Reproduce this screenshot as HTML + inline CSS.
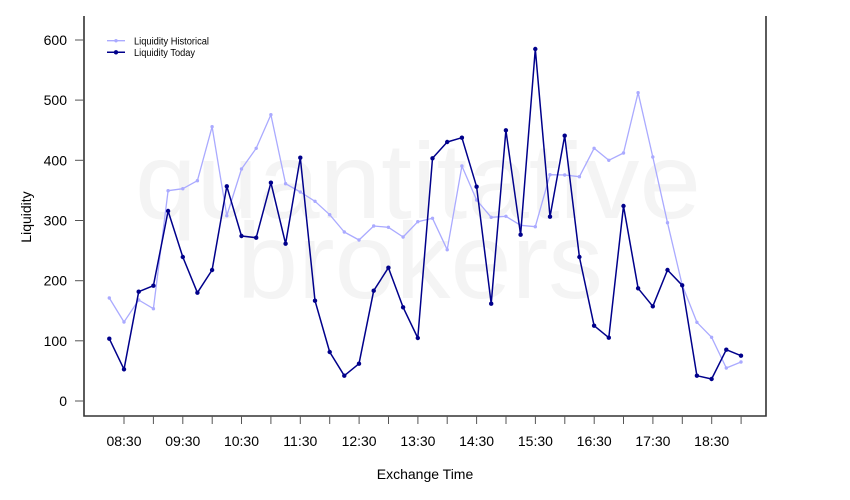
<!DOCTYPE html>
<html>
<head>
<meta charset="utf-8">
<style>
html,body{margin:0;padding:0;background:#fff;}
svg{display:block;}
text{font-family:"Liberation Sans",Arial,sans-serif;}
</style>
</head>
<body>
<svg width="850" height="500" viewBox="0 0 850 500" xmlns="http://www.w3.org/2000/svg">
<rect width="850" height="500" fill="#fff"/>
<!-- watermark -->
<text x="135" y="218" font-size="108" fill="#f4f4f4" textLength="566" lengthAdjust="spacingAndGlyphs">quantitative</text>
<text x="237" y="298" font-size="108" fill="#f4f4f4" textLength="366" lengthAdjust="spacingAndGlyphs">brokers</text>

<!-- axes -->
<g stroke="#333" stroke-width="1.6" fill="none">
<polyline points="84,16 84,416 766,416 766,16"/>
</g>
<!-- y ticks -->
<g stroke="#555" stroke-width="1">
<line x1="75" y1="401" x2="84" y2="401"/>
<line x1="75" y1="340.8" x2="84" y2="340.8"/>
<line x1="75" y1="280.7" x2="84" y2="280.7"/>
<line x1="75" y1="220.5" x2="84" y2="220.5"/>
<line x1="75" y1="160.3" x2="84" y2="160.3"/>
<line x1="75" y1="100.1" x2="84" y2="100.1"/>
<line x1="75" y1="40" x2="84" y2="40"/>
</g>
<g font-size="14" fill="#000" text-anchor="end">
<text x="67" y="406">0</text>
<text x="67" y="345.8">100</text>
<text x="67" y="285.7">200</text>
<text x="67" y="225.5">300</text>
<text x="67" y="165.3">400</text>
<text x="67" y="105.1">500</text>
<text x="67" y="45">600</text>
</g>
<!-- x ticks -->
<g stroke="#555" stroke-width="1">
<line x1="124" y1="416" x2="124" y2="424"/>
<line x1="153.4" y1="416" x2="153.4" y2="424"/>
<line x1="182.8" y1="416" x2="182.8" y2="424"/>
<line x1="212.2" y1="416" x2="212.2" y2="424"/>
<line x1="241.5" y1="416" x2="241.5" y2="424"/>
<line x1="270.9" y1="416" x2="270.9" y2="424"/>
<line x1="300.3" y1="416" x2="300.3" y2="424"/>
<line x1="329.7" y1="416" x2="329.7" y2="424"/>
<line x1="359.1" y1="416" x2="359.1" y2="424"/>
<line x1="388.5" y1="416" x2="388.5" y2="424"/>
<line x1="417.9" y1="416" x2="417.9" y2="424"/>
<line x1="447.2" y1="416" x2="447.2" y2="424"/>
<line x1="476.6" y1="416" x2="476.6" y2="424"/>
<line x1="506" y1="416" x2="506" y2="424"/>
<line x1="535.4" y1="416" x2="535.4" y2="424"/>
<line x1="564.8" y1="416" x2="564.8" y2="424"/>
<line x1="594.2" y1="416" x2="594.2" y2="424"/>
<line x1="623.5" y1="416" x2="623.5" y2="424"/>
<line x1="652.9" y1="416" x2="652.9" y2="424"/>
<line x1="682.3" y1="416" x2="682.3" y2="424"/>
<line x1="711.7" y1="416" x2="711.7" y2="424"/>
<line x1="741.1" y1="416" x2="741.1" y2="424"/>
</g>
<g font-size="14" fill="#000" text-anchor="middle">
<text x="124" y="446">08:30</text>
<text x="182.8" y="446">09:30</text>
<text x="241.5" y="446">10:30</text>
<text x="300.3" y="446">11:30</text>
<text x="359.1" y="446">12:30</text>
<text x="417.9" y="446">13:30</text>
<text x="476.6" y="446">14:30</text>
<text x="535.4" y="446">15:30</text>
<text x="594.2" y="446">16:30</text>
<text x="652.9" y="446">17:30</text>
<text x="711.7" y="446">18:30</text>
</g>
<text x="425" y="479" font-size="14" text-anchor="middle">Exchange Time</text>
<text transform="translate(31,217) rotate(-90)" font-size="14" text-anchor="middle">Liquidity</text>

<!-- Historical -->
<polyline fill="none" stroke="#aaaaff" stroke-width="1.3" stroke-linejoin="round" points="109.3,298 124,322 138.7,300 153.4,308.7 168.1,190.7 182.8,188.7 197.4,180.7 212.1,126.7 226.8,215.7 241.5,169 256.2,148.3 270.9,114.7 285.6,183.7 300.3,192 315,201.3 329.7,214.7 344.3,232 359,240 373.7,226 388.4,227.3 403.1,237 417.8,221.7 432.5,218.3 447.2,249.7 461.9,166 476.6,200 491.2,217.3 505.9,216.3 520.6,225.3 535.3,226.7 550,174.7 564.7,175 579.4,176.7 594.1,148.3 608.8,160.3 623.5,153 638.1,92.7 652.8,157 667.5,222.7 682.2,285 696.9,322.3 711.6,337.3 726.3,368 741,362"/>
<g fill="#aaaaff">
<circle cx="109.3" cy="298" r="1.7"/><circle cx="124" cy="322" r="1.7"/><circle cx="138.7" cy="300" r="1.7"/><circle cx="153.4" cy="308.7" r="1.7"/><circle cx="168.1" cy="190.7" r="1.7"/><circle cx="182.8" cy="188.7" r="1.7"/><circle cx="197.4" cy="180.7" r="1.7"/><circle cx="212.1" cy="126.7" r="1.7"/><circle cx="226.8" cy="215.7" r="1.7"/><circle cx="241.5" cy="169" r="1.7"/><circle cx="256.2" cy="148.3" r="1.7"/><circle cx="270.9" cy="114.7" r="1.7"/><circle cx="285.6" cy="183.7" r="1.7"/><circle cx="300.3" cy="192" r="1.7"/><circle cx="315" cy="201.3" r="1.7"/><circle cx="329.7" cy="214.7" r="1.7"/><circle cx="344.3" cy="232" r="1.7"/><circle cx="359" cy="240" r="1.7"/><circle cx="373.7" cy="226" r="1.7"/><circle cx="388.4" cy="227.3" r="1.7"/><circle cx="403.1" cy="237" r="1.7"/><circle cx="417.8" cy="221.7" r="1.7"/><circle cx="432.5" cy="218.3" r="1.7"/><circle cx="447.2" cy="249.7" r="1.7"/><circle cx="461.9" cy="166" r="1.7"/><circle cx="476.6" cy="200" r="1.7"/><circle cx="491.2" cy="217.3" r="1.7"/><circle cx="505.9" cy="216.3" r="1.7"/><circle cx="520.6" cy="225.3" r="1.7"/><circle cx="535.3" cy="226.7" r="1.7"/><circle cx="550" cy="174.7" r="1.7"/><circle cx="564.7" cy="175" r="1.7"/><circle cx="579.4" cy="176.7" r="1.7"/><circle cx="594.1" cy="148.3" r="1.7"/><circle cx="608.8" cy="160.3" r="1.7"/><circle cx="623.5" cy="153" r="1.7"/><circle cx="638.1" cy="92.7" r="1.7"/><circle cx="652.8" cy="157" r="1.7"/><circle cx="667.5" cy="222.7" r="1.7"/><circle cx="682.2" cy="285" r="1.7"/><circle cx="696.9" cy="322.3" r="1.7"/><circle cx="711.6" cy="337.3" r="1.7"/><circle cx="726.3" cy="368" r="1.7"/><circle cx="741" cy="362" r="1.7"/>
</g>

<!-- Today -->
<polyline fill="none" stroke="#00008b" stroke-width="1.5" stroke-linejoin="round" points="109.3,338.7 124,369.3 138.7,291.7 153.4,285.7 168.1,211 182.8,257 197.4,292.7 212.1,270 226.8,186.3 241.5,236 256.2,237.7 270.9,182.7 285.6,243.7 300.3,157.7 315,300.7 329.7,352 344.3,375.7 359,363.7 373.7,290.7 388.4,267.7 403.1,307.3 417.8,338 432.5,158.3 447.2,142 461.9,137.7 476.6,186.7 491.2,303.7 505.9,130.3 520.6,234.7 535.3,49 550,216.7 564.7,135.7 579.4,257 594.1,325.7 608.8,337.7 623.5,206 638.1,288.3 652.8,306.3 667.5,270 682.2,285.3 696.9,375.7 711.6,379 726.3,349.7 741,355.7"/>
<g fill="#00008b">
<circle cx="109.3" cy="338.7" r="2.2"/><circle cx="124" cy="369.3" r="2.2"/><circle cx="138.7" cy="291.7" r="2.2"/><circle cx="153.4" cy="285.7" r="2.2"/><circle cx="168.1" cy="211" r="2.2"/><circle cx="182.8" cy="257" r="2.2"/><circle cx="197.4" cy="292.7" r="2.2"/><circle cx="212.1" cy="270" r="2.2"/><circle cx="226.8" cy="186.3" r="2.2"/><circle cx="241.5" cy="236" r="2.2"/><circle cx="256.2" cy="237.7" r="2.2"/><circle cx="270.9" cy="182.7" r="2.2"/><circle cx="285.6" cy="243.7" r="2.2"/><circle cx="300.3" cy="157.7" r="2.2"/><circle cx="315" cy="300.7" r="2.2"/><circle cx="329.7" cy="352" r="2.2"/><circle cx="344.3" cy="375.7" r="2.2"/><circle cx="359" cy="363.7" r="2.2"/><circle cx="373.7" cy="290.7" r="2.2"/><circle cx="388.4" cy="267.7" r="2.2"/><circle cx="403.1" cy="307.3" r="2.2"/><circle cx="417.8" cy="338" r="2.2"/><circle cx="432.5" cy="158.3" r="2.2"/><circle cx="447.2" cy="142" r="2.2"/><circle cx="461.9" cy="137.7" r="2.2"/><circle cx="476.6" cy="186.7" r="2.2"/><circle cx="491.2" cy="303.7" r="2.2"/><circle cx="505.9" cy="130.3" r="2.2"/><circle cx="520.6" cy="234.7" r="2.2"/><circle cx="535.3" cy="49" r="2.2"/><circle cx="550" cy="216.7" r="2.2"/><circle cx="564.7" cy="135.7" r="2.2"/><circle cx="579.4" cy="257" r="2.2"/><circle cx="594.1" cy="325.7" r="2.2"/><circle cx="608.8" cy="337.7" r="2.2"/><circle cx="623.5" cy="206" r="2.2"/><circle cx="638.1" cy="288.3" r="2.2"/><circle cx="652.8" cy="306.3" r="2.2"/><circle cx="667.5" cy="270" r="2.2"/><circle cx="682.2" cy="285.3" r="2.2"/><circle cx="696.9" cy="375.7" r="2.2"/><circle cx="711.6" cy="379" r="2.2"/><circle cx="726.3" cy="349.7" r="2.2"/><circle cx="741" cy="355.7" r="2.2"/>
</g>

<!-- legend -->
<line x1="107" y1="40.7" x2="125" y2="40.7" stroke="#aaaaff" stroke-width="1.3"/>
<circle cx="116" cy="40.7" r="1.7" fill="#aaaaff"/>
<line x1="107" y1="52.3" x2="125" y2="52.3" stroke="#00008b" stroke-width="1.5"/>
<circle cx="116" cy="52.3" r="2.2" fill="#00008b"/>
<text x="134" y="44.5" font-size="10" fill="#000" textLength="75" lengthAdjust="spacingAndGlyphs">Liquidity Historical</text>
<text x="134" y="56" font-size="10" fill="#000" textLength="61" lengthAdjust="spacingAndGlyphs">Liquidity Today</text>
</svg>
</body>
</html>
